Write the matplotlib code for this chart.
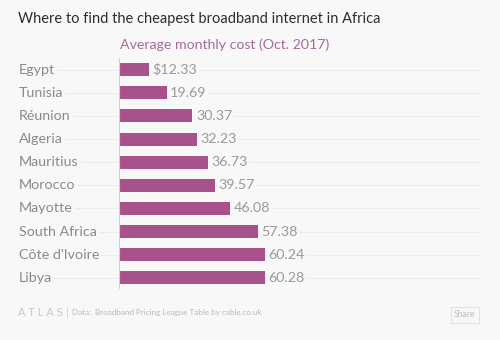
import matplotlib.pyplot as plt
from matplotlib.patches import FancyBboxPatch

countries = ["Egypt", "Tunisia", "Réunion", "Algeria", "Mauritius", "Morocco",
             "Mayotte", "South Africa", "Côte d'Ivoire", "Libya"]
cost = [12.33, 19.69, 30.37, 32.23, 36.73, 39.57, 46.08, 57.38, 60.24, 60.28]
value_labels = ["$12.33", "19.69", "30.37", "32.23", "36.73", "39.57",
                "46.08", "57.38", "60.24", "60.28"]

plt.rcParams['font.family'] = ['Lato', 'DejaVu Sans']

bg = "#f8f8f8"
bar_color = "#a8528b"

fig = plt.figure(figsize=(5, 3.4), dpi=100, facecolor=bg)
ax = fig.add_axes([0.238, 0.149, 0.72, 0.68], facecolor=bg)

ypos = list(range(len(countries)))
ax.barh(ypos, cost, height=0.56, color=bar_color, zorder=3)
ax.set_ylim(len(countries) - 0.5, -0.5)
ax.set_xlim(0, 149)

# faint row gridlines spanning label area and plot
for y in ypos:
    ax.plot([-42, 149], [y, y], color="#ececec", lw=0.8, zorder=1, clip_on=False)

for y, name in zip(ypos, countries):
    ax.text(-41.5, y, name, ha="left", va="center", fontsize=10.3,
            color="#8a8a8a", zorder=4,
            bbox=dict(boxstyle="square,pad=0.15", fc=bg, ec="none"))

for y, v, lab in zip(ypos, cost, value_labels):
    ax.text(v + 1.5, y, lab, ha="left", va="center", fontsize=10.3,
            color="#9a9a9a", zorder=4,
            bbox=dict(boxstyle="square,pad=0.1", fc=bg, ec="none"))

ax.axvline(0, color="#cfcfcf", lw=0.8, zorder=4)
ax.set_xticks([])
ax.set_yticks([])
for s in ax.spines.values():
    s.set_visible(False)

fig.text(0.036, 0.945, "Where to find the cheapest broadband internet in Africa",
         fontsize=10.5, color="#2e2e2e", va="center", ha="left")
fig.text(0.24, 0.868, "Average monthly cost (Oct. 2017)",
         fontsize=10.2, color="#a46b9c", va="center", ha="left")

fig.text(0.036, 0.08, "A T L A S", fontsize=8, color="#c8c8c8", va="center",
         ha="left")
fig.text(0.132, 0.08, "|", fontsize=8, color="#d0d0d0", va="center", ha="left")
fig.text(0.144, 0.08, "Data:  Broadband Pricing League Table by cable.co.uk",
         fontsize=5.8, color="#b8b8b8", va="center", ha="left")

box = FancyBboxPatch((0.902, 0.05), 0.056, 0.048, boxstyle="square,pad=0",
                     transform=fig.transFigure, fc=bg, ec="#e2e2e2", lw=0.8)
fig.patches.append(box)
fig.text(0.93, 0.074, "Share", fontsize=6.2, color="#bdbdbd", va="center",
         ha="center")

fig.savefig("out.png", dpi=100, facecolor=bg)
